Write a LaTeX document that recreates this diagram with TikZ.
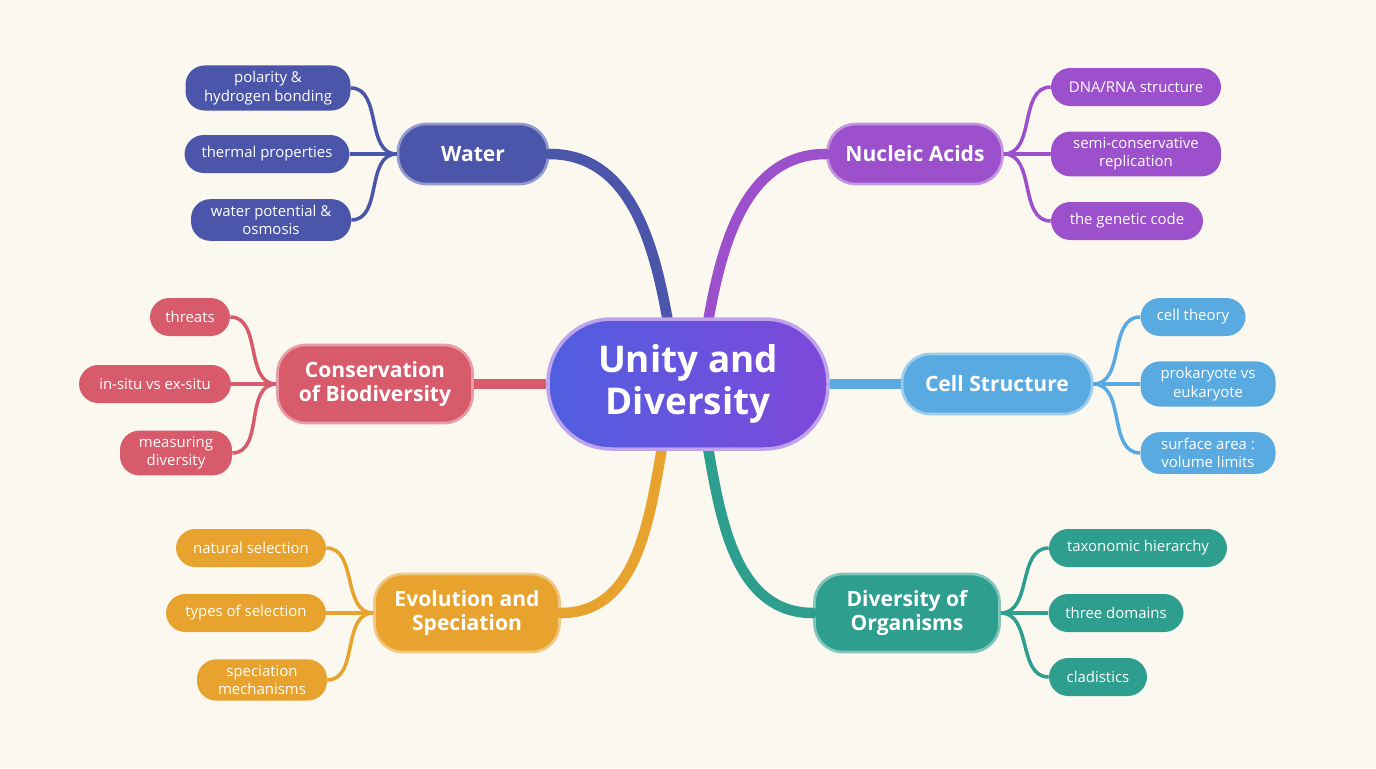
\documentclass[tikz,border=0pt]{standalone}
\usepackage{fontspec}
\setmainfont{Open Sans}
\definecolor{bgcol}{HTML}{FBF8F0}
\definecolor{watercol}{HTML}{4B56AA}
\definecolor{nuclcol}{HTML}{9C50CC}
\definecolor{cellcol}{HTML}{5AAAE2}
\definecolor{divcol}{HTML}{2E9E8E}
\definecolor{evocol}{HTML}{E8A22E}
\definecolor{conscol}{HTML}{D85B6B}
\definecolor{centA}{HTML}{4F5FE0}
\definecolor{centB}{HTML}{7F48DA}
\begin{document}
\begin{tikzpicture}[
    x=0.02cm, y=-0.02cm,
    center/.style={rounded corners=36pt, minimum width=280*0.02cm, minimum height=130*0.02cm, left color=centA, right color=centB, draw=centB!50!white, line width=2pt, text=white, font=\fontsize{21}{24}\selectfont\bfseries, align=center},
    branch/.style={rounded corners=16, minimum height=60*0.02cm, fill=#1, draw=#1!60!white, line width=1.5pt, text=white, font=\fontsize{12}{14}\selectfont\bfseries, align=center},
    leaf/.style={rounded corners=11, minimum height=38*0.02cm, fill=#1, text=white, font=\fontsize{8.5}{10.5}\selectfont, align=center, inner xsep=8pt},
    stem/.style={line width=2pt, draw=#1},
    trunk/.style={line width=6pt, draw=#1, line cap=round}
]
    \fill[bgcol] (0,0) rectangle (1376,768);
    \useasboundingbox (0,0) rectangle (1376,768);

    % Branch nodes
    \node[branch=watercol, minimum width=150*0.02cm] (water) at (473,154) {Water};
    \node[branch=nuclcol, minimum width=175*0.02cm] (nucl) at (915,154) {Nucleic Acids};
    \node[branch=cellcol, minimum width=190*0.02cm] (cell) at (997,384) {Cell Structure};
    \node[branch=divcol, minimum width=185*0.02cm, minimum height=78*0.02cm] (div) at (907,613) {Diversity of\\Organisms};
    \node[branch=evocol, minimum width=185*0.02cm, minimum height=78*0.02cm] (evo) at (467,613) {Evolution and\\Speciation};
    \node[branch=conscol, minimum width=195*0.02cm, minimum height=78*0.02cm] (cons) at (375,384) {Conservation\\of Biodiversity};

    % Trunks from the centre
    \coordinate (cWat) at (668,322);
    \coordinate (cNuc) at (708,322);
    \coordinate (cEvo) at (662,448);
    \coordinate (cDiv) at (708,448);
    \coordinate (cEast) at (830,384);
    \coordinate (cWest) at (546,384);
    \draw[trunk=watercol] (cWat) to[out=100,in=0] (water.east);
    \draw[trunk=nuclcol] (cNuc) to[out=80,in=180] (nucl.west);
    \draw[trunk=evocol] (cEvo) to[out=-100,in=0] (evo.east);
    \draw[trunk=divcol] (cDiv) to[out=-80,in=180] (div.west);
    \draw[trunk=cellcol, line cap=butt] (cEast) -- (cell.west);
    \draw[trunk=conscol, line cap=butt] (cWest) -- (cons.east);

    % Centre
    \node[center] (core) at (688,384) {Unity and\\Diversity};

    % Water leaves
    \node[leaf=watercol, minimum width=165*0.02cm] (w1) at (268,88) {polarity \&\\hydrogen bonding};
    \node[leaf=watercol, minimum width=165*0.02cm] (w2) at (267,154) {thermal properties};
    \node[leaf=watercol, minimum width=160*0.02cm] (w3) at (271,220) {water potential \&\\osmosis};
    \foreach \l in {w1,w2,w3}
        \draw[stem=watercol] (water.west) to[out=180,in=0] (\l.east);

    % Nucleic acid leaves
    \node[leaf=nuclcol, minimum width=170*0.02cm] (n1) at (1136,87) {DNA/RNA structure};
    \node[leaf=nuclcol, minimum width=170*0.02cm] (n2) at (1136,154) {semi-conservative\\replication};
    \node[leaf=nuclcol, minimum width=152*0.02cm] (n3) at (1127,221) {the genetic code};
    \foreach \l in {n1,n2,n3}
        \draw[stem=nuclcol] (nucl.east) to[out=0,in=180] (\l.west);

    % Cell leaves
    \node[leaf=cellcol, minimum width=105*0.02cm] (c1) at (1193,317) {cell theory};
    \node[leaf=cellcol, minimum width=135*0.02cm] (c2) at (1208,384) {prokaryote vs\\eukaryote};
    \node[leaf=cellcol, minimum width=135*0.02cm] (c3) at (1208,453) {surface area :\\volume limits};
    \foreach \l in {c1,c2,c3}
        \draw[stem=cellcol] (cell.east) to[out=0,in=180] (\l.west);

    % Diversity leaves
    \node[leaf=divcol, minimum width=178*0.02cm] (d1) at (1138,548) {taxonomic hierarchy};
    \node[leaf=divcol, minimum width=135*0.02cm] (d2) at (1116,613) {three domains};
    \node[leaf=divcol, minimum width=98*0.02cm] (d3) at (1098,677) {cladistics};
    \foreach \l in {d1,d2,d3}
        \draw[stem=divcol] (div.east) to[out=0,in=180] (\l.west);

    % Evolution leaves
    \node[leaf=evocol, minimum width=150*0.02cm] (e1) at (251,548) {natural selection};
    \node[leaf=evocol, minimum width=160*0.02cm] (e2) at (246,613) {types of selection};
    \node[leaf=evocol, minimum width=130*0.02cm] (e3) at (262,680) {speciation\\mechanisms};
    \foreach \l in {e1,e2,e3}
        \draw[stem=evocol] (evo.west) to[out=180,in=0] (\l.east);

    % Conservation leaves
    \node[leaf=conscol, minimum width=80*0.02cm] (k1) at (190,317) {threats};
    \node[leaf=conscol, minimum width=152*0.02cm] (k2) at (155,384) {in-situ vs ex-situ};
    \node[leaf=conscol, minimum width=112*0.02cm] (k3) at (176,453) {measuring\\diversity};
    \foreach \l in {k1,k2,k3}
        \draw[stem=conscol] (cons.west) to[out=180,in=0] (\l.east);
\end{tikzpicture}
\end{document}
